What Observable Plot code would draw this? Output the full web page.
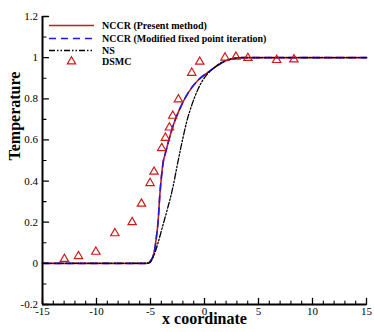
<!DOCTYPE html>
<html><head><meta charset="utf-8">
<script src="https://cdn.jsdelivr.net/npm/d3@7"></script>
<script src="https://cdn.jsdelivr.net/npm/@observablehq/plot@0.6"></script>
<style>body{margin:0;background:#fff}#chart{width:374px;height:332px}#chart svg text{font-family:'Liberation Serif','Times New Roman',serif}</style>
</head><body><div id="chart"></div>
<script>
// NCCR (Present method)
const nccrX = [-15, -5.4, -5.2, -5.0, -4.8, -4.6, -4.45, -4.3, -4.14, -3.95, -3.8, -3.65, -3.35, -2.9, -2.3, -1.5, -0.6, 0.35, 1.3, 1.9, 2.6, 3.5, 15];
const nccrY = [0, 0, 0.003, 0.012, 0.03, 0.07, 0.13, 0.2, 0.33, 0.44, 0.5, 0.53, 0.59, 0.67, 0.75, 0.83, 0.89, 0.93, 0.965, 0.983, 0.995, 1, 1];
// NCCR (Modified fixed point iteration) — coincides with the present method in the picture
const modX = [-15, -5.4, -5.2, -5.0, -4.8, -4.6, -4.45, -4.3, -4.14, -3.95, -3.8, -3.65, -3.35, -2.9, -2.3, -1.5, -0.6, 0.35, 1.3, 1.9, 2.6, 3.5, 15];
const modY = [0, 0, 0.003, 0.012, 0.03, 0.07, 0.13, 0.2, 0.33, 0.44, 0.5, 0.53, 0.59, 0.67, 0.75, 0.83, 0.89, 0.93, 0.965, 0.983, 0.995, 1, 1];
// NS
const nsX = [-15, -5.4, -5.05, -4.75, -4.3, -3.88, -3.42, -2.95, -2.55, -2.1, -1.65, -1.18, -0.57, 0.05, 0.81, 1.59, 2.5, 3.5, 15];
const nsY = [0, 0, 0.004, 0.03, 0.1, 0.18, 0.267, 0.364, 0.47, 0.585, 0.688, 0.769, 0.85, 0.907, 0.947, 0.977, 0.993, 1, 1];
// DSMC
const dsmcX = [-12.97, -11.67, -10.06, -8.3, -6.7, -5.84, -5.04, -4.67, -3.96, -3.62, -3.25, -2.94, -2.42, -1.18, -0.44, 1.9, 2.91, 4.02, 6.68, 8.28];
const dsmcY = [0.021, 0.035, 0.056, 0.146, 0.2, 0.29, 0.39, 0.445, 0.56, 0.61, 0.66, 0.717, 0.797, 0.926, 0.98, 1.0, 1.004, 0.998, 0.988, 0.991];

const xTicks = [-15, -10, -5, 0, 5, 10, 15];
const xTickLabels = ["-15", "-10", "-5", "0", "5", "10", "15"];
const yTicks = [-0.2, 0, 0.2, 0.4, 0.6, 0.8, 1, 1.2];
const yTickLabels = ["-0.2", "0", "0.2", "0.4", "0.6", "0.8", "1", "1.2"];
const xMinor = d3.range(-14, 15).filter(v => v % 5 !== 0);
const yMinor = [-0.1, 0.1, 0.3, 0.5, 0.7, 0.9, 1.1];

const seriesNames = ["NCCR (Present method)", "NCCR (Modified fixed point iteration)", "NS", "DSMC"];
const xTitle = "x coordinate";
const yTitle = "Temperature";

const FONT = "'Liberation Serif', 'Times New Roman', serif";
const RED = "#cc1a1a", BLUE = "#1a1ae6", BLACK = "#000";
const NSDASH = "6,2,1.5,2,1.5,2";
const zip = (xs, ys) => xs.map((x, i) => ({x, y: ys[i]}));
const tickShape = {draw(ctx, l) { ctx.moveTo(0, 0); ctx.lineTo(0, -l); }};

const chart = Plot.plot({
  width: 374, height: 332,
  marginLeft: 42, marginRight: 8, marginTop: 16, marginBottom: 28,
  style: {fontFamily: FONT, fontSize: "11px", color: "black", background: "white"},
  x: {domain: [-15, 15]},
  y: {domain: [-0.2, 1.2]},
  marks: [
    Plot.axisX({ticks: xTicks, tickSize: 0, tickPadding: 2.5, label: null, fontSize: 11, fontFamily: FONT, tickFormat: d => xTickLabels[xTicks.indexOf(d)]}),
    Plot.axisY({ticks: yTicks, tickSize: 0, tickPadding: 4.5, label: null, fontSize: 11, fontFamily: FONT, tickFormat: d => yTickLabels[yTicks.indexOf(d)]}),
    Plot.line(zip(nccrX, nccrY), {x: "x", y: "y", stroke: RED, strokeWidth: 1.6, curve: "monotone-x"}),
    Plot.line(zip(modX, modY), {x: "x", y: "y", stroke: BLUE, strokeWidth: 1.6, strokeDasharray: "7,5", curve: "monotone-x"}),
    Plot.line(zip(nsX, nsY), {x: "x", y: "y", stroke: BLACK, strokeWidth: 1.3, strokeDasharray: NSDASH, curve: "monotone-x"}),
    Plot.dot(zip(dsmcX, dsmcY), {x: "x", y: "y", symbol: "triangle", r: 3.1, stroke: RED, strokeWidth: 1.2, fill: "none"}),
    // inward ticks
    Plot.vector(yTicks, {x: -15, y: d => d, length: 6, rotate: 90, anchor: "start", shape: tickShape, stroke: BLACK, strokeWidth: 1.3}),
    Plot.vector(yMinor, {x: -15, y: d => d, length: 3.5, rotate: 90, anchor: "start", shape: tickShape, stroke: BLACK, strokeWidth: 1.1}),
    Plot.vector(xTicks, {x: d => d, y: -0.2, length: 6, rotate: 0, anchor: "start", shape: tickShape, stroke: BLACK, strokeWidth: 1.3}),
    Plot.vector(xMinor, {x: d => d, y: -0.2, length: 3.5, rotate: 0, anchor: "start", shape: tickShape, stroke: BLACK, strokeWidth: 1.1}),
    Plot.ruleX([-15], {stroke: BLACK, strokeWidth: 2}),
    Plot.ruleY([-0.2], {stroke: BLACK, strokeWidth: 2}),
    Plot.text([xTitle], {frameAnchor: "bottom", dy: 19.5, fontSize: 16, fontWeight: "bold", fill: BLACK, fontFamily: FONT}),
    Plot.text([yTitle], {frameAnchor: "left", dx: -28, rotate: -90, fontSize: 16, fontWeight: "bold", fill: BLACK, fontFamily: FONT})
  ]
});

// legend (inside plot, upper left)
const svg = d3.select(chart);
const lg = svg.append("g").attr("font-family", FONT).attr("font-size", 10).attr("font-weight", "bold").attr("text-anchor", "start");
const rows = [25.5, 38.5, 50.5, 61.5];
const styles = [
  {stroke: RED, dash: null, w: 1.6},
  {stroke: BLUE, dash: "7,5", w: 1.6},
  {stroke: BLACK, dash: NSDASH, w: 1.3},
  null
];
seriesNames.forEach((name, i) => {
  const y = rows[i];
  const s = styles[i];
  if (s) {
    lg.append("line").attr("x1", 49).attr("x2", 94).attr("y1", y).attr("y2", y)
      .attr("stroke", s.stroke).attr("stroke-width", s.w).attr("stroke-dasharray", s.dash);
  } else {
    lg.append("path").attr("d", d3.symbol(d3.symbolTriangle, Math.PI * 3.1 * 3.1)())
      .attr("transform", `translate(71.5,${y})`).attr("fill", "none").attr("stroke", RED).attr("stroke-width", 1.2);
  }
  lg.append("text").attr("x", 102).attr("y", y).attr("dy", "0.35em").attr("text-anchor", "start").attr("fill", BLACK).text(name);
});

document.getElementById("chart").appendChild(chart);
</script>
</body></html>
